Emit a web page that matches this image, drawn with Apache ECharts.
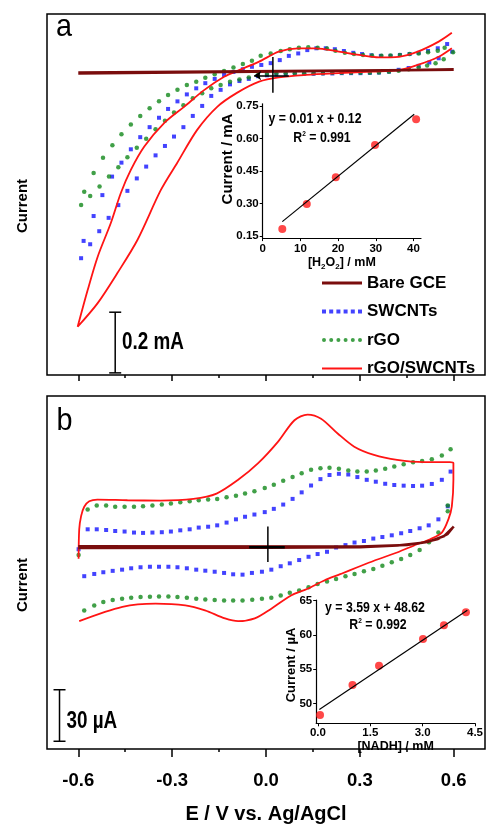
<!DOCTYPE html>
<html><head><meta charset="utf-8">
<script src="https://cdn.jsdelivr.net/npm/echarts@6/dist/echarts.min.js"></script>
<style>html,body{margin:0;padding:0;background:#fff}#c{width:486px;height:825px}</style>
</head><body><div id="c"></div>
<script>
const SANS = "'Liberation Sans',Arial,sans-serif";
const NX = 0.82; // horizontal squeeze of the reference's lettering

// ---------- Panel a : E / V vs current / mA ----------
const aBare = [[-0.6,-0.003],[0.6,0.006],[0.6,0.002],[-0.6,-0.006]];
const aRed = [[0.594,0.128],[0.552,0.099],[0.485,0.066],[0.424,0.049],[0.361,0.047],[0.297,0.055],[0.233,0.066],[0.159,0.077],[0.105,0.077],[0.041,0.066],[-0.022,0.033],[-0.086,0.005],[-0.134,-0.017],[-0.198,-0.061],[-0.262,-0.116],[-0.325,-0.169],[-0.389,-0.247],[-0.432,-0.324],[-0.464,-0.400],[-0.496,-0.499],[-0.538,-0.610],[-0.570,-0.720],[-0.602,-0.841],
  [-0.538,-0.763],[-0.475,-0.664],[-0.411,-0.555],[-0.336,-0.390],[-0.284,-0.301],[-0.220,-0.192],[-0.156,-0.116],[-0.093,-0.070],[-0.022,-0.033],[0.041,-0.019],[0.127,-0.011],[0.233,-0.005],[0.338,0.000],[0.424,0.005],[0.485,0.022],[0.552,0.049],[0.594,0.077]];
const aBlue = [[-0.591,-0.615],[-0.583,-0.558],[-0.551,-0.476],[-0.523,-0.407],[-0.492,-0.346],[-0.462,-0.300],[-0.432,-0.256],[-0.402,-0.216],[-0.372,-0.183],[-0.342,-0.152],[-0.313,-0.123],[-0.283,-0.098],[-0.253,-0.075],[-0.223,-0.055],[-0.194,-0.038],[-0.164,-0.024],[-0.134,-0.011],[-0.104,-0.001],[-0.074,0.008],[-0.045,0.016],[-0.015,0.022],[0.015,0.028],[0.044,0.038],[0.073,0.052],[0.103,0.060],[0.132,0.071],[0.161,0.077],[0.191,0.077],[0.220,0.074],[0.249,0.068],[0.279,0.062],[0.307,0.058],[0.337,0.054],[0.367,0.052],[0.398,0.052],[0.428,0.055],[0.459,0.058],[0.488,0.062],[0.518,0.068],[0.549,0.077],[0.579,0.091],
  [0.595,0.066],[0.552,0.044],[0.522,0.030],[0.488,0.019],[0.456,0.012],[0.424,0.006],[0.393,0.000],[0.361,-0.003],[0.332,-0.004],[0.302,-0.005],[0.272,-0.005],[0.242,-0.005],[0.212,-0.006],[0.182,-0.006],[0.152,-0.007],[0.122,-0.007],[0.092,-0.008],[0.063,-0.009],[0.033,-0.010],[0.003,-0.012],[-0.026,-0.015],[-0.055,-0.024],[-0.085,-0.031],[-0.115,-0.042],[-0.145,-0.060],[-0.175,-0.080],[-0.204,-0.113],[-0.234,-0.146],[-0.264,-0.183],[-0.294,-0.214],[-0.323,-0.245],[-0.353,-0.276],[-0.383,-0.313],[-0.413,-0.352],[-0.443,-0.393],[-0.472,-0.440],[-0.503,-0.482],[-0.533,-0.526],[-0.562,-0.569]];
const aGreen = [[-0.591,-0.440],[-0.581,-0.396],[-0.551,-0.334],[-0.521,-0.284],[-0.491,-0.243],[-0.462,-0.206],[-0.432,-0.174],[-0.402,-0.146],[-0.372,-0.121],[-0.342,-0.098],[-0.313,-0.077],[-0.283,-0.060],[-0.253,-0.044],[-0.223,-0.033],[-0.194,-0.020],[-0.164,-0.009],[-0.134,0.002],[-0.104,0.014],[-0.074,0.025],[-0.045,0.036],[-0.017,0.052],[0.015,0.060],[0.047,0.068],[0.076,0.074],[0.105,0.079],[0.135,0.080],[0.165,0.079],[0.195,0.076],[0.222,0.069],[0.252,0.062],[0.281,0.058],[0.310,0.055],[0.339,0.053],[0.369,0.052],[0.398,0.053],[0.428,0.055],[0.459,0.058],[0.488,0.060],[0.518,0.064],[0.549,0.069],[0.571,0.079],[0.598,0.064],
  [0.568,0.041],[0.542,0.028],[0.515,0.020],[0.488,0.014],[0.456,0.008],[0.424,0.003],[0.393,0.000],[0.361,-0.003],[0.332,-0.004],[0.302,-0.004],[0.272,-0.004],[0.242,-0.004],[0.212,-0.004],[0.182,-0.005],[0.152,-0.005],[0.122,-0.005],[0.092,-0.005],[0.063,-0.005],[0.033,-0.006],[0.003,-0.008],[-0.026,-0.012],[-0.055,-0.019],[-0.085,-0.026],[-0.115,-0.033],[-0.145,-0.044],[-0.175,-0.055],[-0.204,-0.071],[-0.234,-0.088],[-0.264,-0.111],[-0.294,-0.135],[-0.323,-0.162],[-0.353,-0.190],[-0.383,-0.221],[-0.413,-0.251],[-0.443,-0.282],[-0.472,-0.315],[-0.502,-0.346],[-0.532,-0.379],[-0.562,-0.410]];
const aScaleBar = [[-0.482,-0.793],[-0.482,-0.993]];   // 0.2 mA
const aCrossV = [[0.022,0.048],[0.022,-0.070]];
const aArrow = [[0.073,-0.013],[-0.038,-0.013]];

// ---------- Inset a : [H2O2] / mM vs current / mA ----------
const h2o2Conc = [5.2,11.7,19.4,29.8,40.7];
const h2o2Current = [0.182,0.298,0.421,0.570,0.689];
const h2o2Fit = [[5.2,0.216],[40.2,0.712]];
const insetAXTicks = [0,10,20,30,40];
const insetAYTicks = [0.15,0.30,0.45,0.60,0.75];

// ---------- Panel b : E / V vs current / µA ----------
const bBare = [[-0.6,-0.5],[0.0,-0.3],[0.3,0.0],[0.42,1.0],[0.5,2.6],[0.55,4.8],[0.58,7.6],[0.6,12.0],[0.57,6.5],[0.52,3.2],[0.45,1.2],[0.3,0.4],[-0.6,0.5]];
const bRed = [[-0.597,-43.1],[-0.459,-34.8],[-0.353,-32.9],[-0.258,-33.9],[-0.195,-36.8],[-0.131,-41.5],[-0.089,-43.1],[-0.036,-41.5],[0.017,-35.8],[0.080,-28.1],[0.133,-24.2],[0.186,-19.4],[0.239,-15.6],[0.292,-11.7],[0.345,-7.9],[0.419,-3.1],[0.483,1.7],[0.525,4.6],[0.562,8.5],[0.583,16.2],[0.594,23.8],[0.599,39.2],[0.599,48.9],[0.588,49.5],[0.504,49.5],[0.419,50.8],[0.345,53.7],[0.282,58.5],[0.229,66.2],[0.176,74.8],[0.133,77.2],[0.091,73.9],[0.038,61.3],[-0.025,48.9],[-0.089,39.2],[-0.158,31.2],[-0.232,28.1],[-0.337,27.1],[-0.443,27.3],[-0.539,27.7],[-0.565,26.7],[-0.581,23.5],[-0.591,18.1],[-0.597,10.4],[-0.599,-6.7]];
const bBlue = [[-0.599,-1.2],[-0.570,10.4],[-0.541,10.4],[-0.511,10.0],[-0.482,9.4],[-0.452,9.1],[-0.422,8.5],[-0.393,8.3],[-0.363,8.5],[-0.333,8.7],[-0.304,9.1],[-0.274,9.8],[-0.244,10.4],[-0.215,11.4],[-0.185,11.9],[-0.156,12.7],[-0.126,14.3],[-0.096,16.2],[-0.067,17.7],[-0.037,19.0],[-0.004,20.4],[0.025,22.3],[0.055,24.8],[0.085,28.1],[0.114,31.9],[0.144,35.9],[0.174,39.6],[0.203,42.0],[0.233,42.7],[0.263,42.3],[0.292,40.8],[0.322,39.2],[0.351,38.1],[0.381,36.9],[0.410,36.2],[0.440,35.8],[0.470,35.6],[0.499,35.8],[0.530,36.8],[0.562,39.2],[0.590,44.0],
  [0.581,23.8],[0.551,16.2],[0.520,12.7],[0.491,11.0],[0.461,9.4],[0.432,8.1],[0.402,6.9],[0.372,5.9],[0.343,5.0],[0.313,3.6],[0.283,2.7],[0.254,1.2],[0.224,-0.2],[0.195,-2.7],[0.165,-4.0],[0.136,-5.6],[0.106,-7.5],[0.076,-9.4],[0.047,-11.1],[0.017,-13.1],[-0.013,-14.3],[-0.045,-15.0],[-0.075,-16.0],[-0.105,-15.8],[-0.134,-15.0],[-0.164,-14.3],[-0.194,-13.7],[-0.223,-13.1],[-0.253,-12.3],[-0.283,-11.7],[-0.312,-11.4],[-0.342,-11.4],[-0.371,-11.4],[-0.401,-11.7],[-0.431,-12.3],[-0.460,-13.1],[-0.490,-13.8],[-0.520,-14.6],[-0.549,-15.6],[-0.581,-16.9]];
const bGreen = [[-0.599,-4.5],[-0.570,21.9],[-0.541,24.2],[-0.511,24.2],[-0.482,23.5],[-0.452,23.5],[-0.422,23.5],[-0.393,23.8],[-0.363,24.2],[-0.333,24.8],[-0.304,25.4],[-0.274,26.1],[-0.244,26.7],[-0.215,27.3],[-0.185,27.7],[-0.156,28.1],[-0.126,29.0],[-0.096,30.0],[-0.067,31.2],[-0.037,32.5],[-0.004,34.4],[0.025,36.4],[0.055,38.7],[0.085,40.8],[0.114,43.1],[0.144,45.0],[0.174,46.0],[0.203,46.3],[0.233,45.6],[0.263,44.6],[0.292,44.0],[0.322,44.0],[0.351,44.6],[0.381,45.6],[0.410,46.9],[0.440,48.3],[0.470,49.5],[0.499,50.2],[0.530,51.2],[0.562,53.3],[0.590,57.0],
  [0.581,24.2],[0.581,20.9],[0.551,8.5],[0.521,2.9],[0.491,-1.6],[0.461,-4.6],[0.432,-6.9],[0.402,-8.8],[0.372,-10.8],[0.343,-12.7],[0.313,-14.0],[0.283,-15.6],[0.254,-16.9],[0.224,-18.5],[0.195,-20.0],[0.165,-21.4],[0.136,-23.3],[0.106,-25.2],[0.076,-26.5],[0.047,-28.1],[0.017,-29.4],[-0.013,-30.0],[-0.044,-30.6],[-0.075,-31.0],[-0.105,-31.0],[-0.134,-31.0],[-0.164,-30.8],[-0.194,-30.4],[-0.223,-30.0],[-0.253,-29.4],[-0.283,-29.0],[-0.312,-28.7],[-0.342,-28.7],[-0.371,-28.9],[-0.401,-29.0],[-0.431,-29.4],[-0.460,-30.0],[-0.490,-30.8],[-0.520,-31.9],[-0.549,-33.9],[-0.581,-36.8]];
const bScaleBar = [[-0.660,-83],[-0.660,-113]];   // 30 µA
const bCrossV = [[0.006,12.1],[0.006,-8.7]];
const bCrossH = [[-0.054,0],[0.060,0]];

// ---------- Inset b : [NADH] / mM vs current / µA ----------
const nadhConc = [0.06,0.99,1.75,3.01,3.61,4.24];
const nadhCurrent = [48.3,52.7,55.5,59.4,61.4,63.3];
const nadhFit = [[0.04,49.1],[4.28,63.6]];
const insetBXTicks = [0,1.5,3.0,4.5];
const insetBYTicks = [50,55,60,65];

const eMajor = [-0.6,-0.3,0,0.3,0.6];
const eMinor = [-0.45,-0.15,0.15,0.45];

const C_BARE = '#7a0d0d', C_BLUE = '#1414ff', C_GREEN = '#12881a', C_RED = '#ff1414';
const zip = (a,b) => a.map((v,i)=>[v,b[i]]);

function mainX(grid, customTicks, len, showLabels, extra) {
  return Object.assign({
    type:'value', gridIndex:grid, min:-0.7, max:0.7, position:'bottom',
    axisLine:{show:false, onZero:false}, splitLine:{show:false},
    axisTick:{show:true, inside:false, length:len, customValues:customTicks, lineStyle:{color:'#000', width:1.5}},
    axisLabel: showLabels ? {show:true, customValues:customTicks, formatter:v=>v.toFixed(1), color:'#000', fontFamily:SANS, fontWeight:'bold', fontSize:18.5, margin:22} : {show:false}
  }, extra||{});
}
const insetAxisCommon = {
  axisLine:{show:true, onZero:false, lineStyle:{color:'#000', width:1.2}},
  splitLine:{show:false},
};
const lbl = {color:'#000', fontFamily:SANS, fontWeight:'bold', fontSize:11.5};

const chart = echarts.init(document.getElementById('c'), null, {renderer:'canvas'});
chart.setOption({
  animation:false,
  backgroundColor:'#fff',
  grid:[
    {left:47, top:14, width:438, height:361, show:true, borderColor:'#000', borderWidth:1.5, backgroundColor:'transparent'},
    {left:262.7, top:103.8, width:158.3, height:134.3},
    {left:47, top:396, width:438, height:356, show:true, borderColor:'#000', borderWidth:1.5, backgroundColor:'transparent'},
    {left:316.2, top:600, width:161.5, height:123.3}
  ],
  xAxis:[
    mainX(0, eMajor, 6, false),
    mainX(0, eMinor, 3, false),
    Object.assign({type:'value', gridIndex:1, min:0, max:42,
      axisTick:{show:true, length:3, customValues:insetAXTicks, lineStyle:{color:'#000'}},
      axisLabel:Object.assign({customValues:insetAXTicks, margin:5}, lbl),
      name:'[H{s|2}O{s|2}] / mM', nameLocation:'middle', nameGap:16,
      nameTextStyle:{color:'#000', fontFamily:SANS, fontWeight:'bold', fontSize:12.5, rich:{s:{fontFamily:SANS, fontWeight:'bold', fontSize:8, verticalAlign:'bottom', padding:[8,0,0,0]}}}
    }, insetAxisCommon),
    mainX(2, eMajor, 8, true, {name:'E / V vs. Ag/AgCl', nameLocation:'middle', nameGap:55,
      nameTextStyle:{color:'#000', fontFamily:SANS, fontWeight:'bold', fontSize:20}}),
    mainX(2, eMinor, 3, false),
    Object.assign({type:'value', gridIndex:3, min:-0.05, max:4.5,
      axisTick:{show:true, length:3, customValues:insetBXTicks, lineStyle:{color:'#000'}},
      axisLabel:Object.assign({customValues:insetBXTicks, formatter:v=>v.toFixed(1), margin:4}, lbl),
      name:'[NADH] / mM', nameLocation:'middle', nameGap:14,
      nameTextStyle:{color:'#000', fontFamily:SANS, fontWeight:'bold', fontSize:12.5}
    }, insetAxisCommon)
  ],
  yAxis:[
    {type:'value', gridIndex:0, min:-1.0, max:0.19, show:false},
    Object.assign({type:'value', gridIndex:1, min:0.14, max:0.76,
      axisTick:{show:true, length:3, customValues:insetAYTicks, lineStyle:{color:'#000'}},
      axisLabel:Object.assign({customValues:insetAYTicks, formatter:v=>v.toFixed(2), margin:4}, lbl)
    }, insetAxisCommon),
    {type:'value', gridIndex:2, min:-117.5, max:88, show:false},
    Object.assign({type:'value', gridIndex:3, min:47.1, max:65.1,
      axisTick:{show:true, length:3, customValues:insetBYTicks, lineStyle:{color:'#000'}},
      axisLabel:Object.assign({customValues:insetBYTicks, margin:4}, lbl)
    }, insetAxisCommon)
  ],
  legend:{
    orient:'vertical', left:322, top:273, padding:0, itemWidth:40, itemHeight:14, itemGap:8.5,
    selectedMode:false,
    textStyle:{color:'#000', fontFamily:SANS, fontWeight:'bold', fontSize:17, lineHeight:20},
    data:[
      {name:'Bare GCE', icon:'path://M0,0H40V3H0Z', itemStyle:{color:C_BARE}},
      {name:'SWCNTs', icon:'path://M0,0h4v4h-4zM7.2,0h4v4h-4zM14.4,0h4v4h-4zM21.6,0h4v4h-4zM28.8,0h4v4h-4zM36,0h4v4h-4z', itemStyle:{color:C_BLUE}},
      {name:'rGO', icon:'path://M0,2a2,2 0 1,0 4,0a2,2 0 1,0 -4,0zM7.2,2a2,2 0 1,0 4,0a2,2 0 1,0 -4,0zM14.4,2a2,2 0 1,0 4,0a2,2 0 1,0 -4,0zM21.6,2a2,2 0 1,0 4,0a2,2 0 1,0 -4,0zM28.8,2a2,2 0 1,0 4,0a2,2 0 1,0 -4,0zM36,2a2,2 0 1,0 4,0a2,2 0 1,0 -4,0z', itemStyle:{color:C_GREEN}},
      {name:'rGO/SWCNTs', icon:'path://M0,0H40V2H0Z', itemStyle:{color:C_RED}}
    ]
  },
  series:[
    // ---- panel a ----
    {name:'SWCNTs', type:'scatter', xAxisIndex:0, yAxisIndex:0, data:aBlue, symbol:'rect', symbolSize:4, itemStyle:{color:C_BLUE}, silent:true},
    {name:'rGO', type:'scatter', xAxisIndex:0, yAxisIndex:0, data:aGreen, symbol:'circle', symbolSize:4.5, itemStyle:{color:C_GREEN}, silent:true},
    {name:'rGO/SWCNTs', type:'line', xAxisIndex:0, yAxisIndex:0, data:aRed, symbol:'none', smooth:0.3, color:C_RED, lineStyle:{color:C_RED, width:1.8}, silent:true},
    {name:'Bare GCE', type:'line', xAxisIndex:0, yAxisIndex:0, data:aBare, symbol:'none', color:C_BARE, lineStyle:{color:C_BARE, width:2.5}, silent:true,
      markLine:{silent:true, symbol:['none','arrow'], symbolSize:7, label:{show:false}, lineStyle:{color:'#000', width:1.5, type:'solid'},
        data:[[{coord:aArrow[0]},{coord:aArrow[1]}]]}},
    {name:'crossA', type:'line', xAxisIndex:0, yAxisIndex:0, data:aCrossV, symbol:'none', lineStyle:{color:'#000', width:1.5}, silent:true},
    {name:'scaleA', type:'line', xAxisIndex:0, yAxisIndex:0, data:aScaleBar, symbol:'rect', symbolSize:[12,1.5], showAllSymbol:true, itemStyle:{color:'#000'}, lineStyle:{color:'#000', width:1.5}, silent:true},
    // ---- inset a ----
    {name:'fitA', type:'line', xAxisIndex:2, yAxisIndex:1, data:h2o2Fit, symbol:'none', lineStyle:{color:'#000', width:1.2}, silent:true},
    {name:'ptsA', type:'scatter', xAxisIndex:2, yAxisIndex:1, data:zip(h2o2Conc,h2o2Current), symbol:'circle', symbolSize:8, itemStyle:{color:'#ff1a1a'}, silent:true},
    // ---- panel b ----
    {name:'SWCNTs', type:'scatter', xAxisIndex:3, yAxisIndex:2, data:bBlue, symbol:'rect', symbolSize:4, itemStyle:{color:C_BLUE}, silent:true},
    {name:'rGO', type:'scatter', xAxisIndex:3, yAxisIndex:2, data:bGreen, symbol:'circle', symbolSize:4.5, itemStyle:{color:C_GREEN}, silent:true},
    {name:'rGO/SWCNTs', type:'line', xAxisIndex:3, yAxisIndex:2, data:bRed, symbol:'none', smooth:0.3, color:C_RED, lineStyle:{color:C_RED, width:1.8}, silent:true},
    {name:'Bare GCE', type:'line', xAxisIndex:3, yAxisIndex:2, data:bBare, symbol:'none', color:C_BARE, lineStyle:{color:C_BARE, width:2.5}, silent:true},
    {name:'crossBV', type:'line', xAxisIndex:3, yAxisIndex:2, data:bCrossV, symbol:'none', lineStyle:{color:'#000', width:1.5}, silent:true},
    {name:'crossBH', type:'line', xAxisIndex:3, yAxisIndex:2, data:bCrossH, symbol:'none', lineStyle:{color:'#000', width:2.5}, silent:true},
    {name:'scaleB', type:'line', xAxisIndex:3, yAxisIndex:2, data:bScaleBar, symbol:'rect', symbolSize:[12,1.5], showAllSymbol:true, itemStyle:{color:'#000'}, lineStyle:{color:'#000', width:1.5}, silent:true},
    // ---- inset b ----
    {name:'fitB', type:'line', xAxisIndex:5, yAxisIndex:3, data:nadhFit, symbol:'none', lineStyle:{color:'#000', width:1.2}, silent:true},
    {name:'ptsB', type:'scatter', xAxisIndex:5, yAxisIndex:3, data:zip(nadhConc,nadhCurrent), symbol:'circle', symbolSize:8, itemStyle:{color:'#ff1a1a'}, silent:true}
  ],
  graphic:[
    {type:'text', x:64, y:27, scaleX:0.9, style:{text:'a', font:"32px "+SANS, fill:'#000', textAlign:'center', textVerticalAlign:'middle'}},
    {type:'text', x:64.5, y:421.5, scaleX:0.9, style:{text:'b', font:"32px "+SANS, fill:'#000', textAlign:'center', textVerticalAlign:'middle'}},
    {type:'text', x:23, y:206, rotation:Math.PI/2, style:{text:'Current', font:"bold 15px "+SANS, fill:'#000', textAlign:'center', textVerticalAlign:'middle'}},
    {type:'text', x:23, y:585, rotation:Math.PI/2, style:{text:'Current', font:"bold 15px "+SANS, fill:'#000', textAlign:'center', textVerticalAlign:'middle'}},
    {type:'text', x:228.3, y:159, rotation:Math.PI/2, style:{text:'Current / mA', font:"bold 15px "+SANS, fill:'#000', textAlign:'center', textVerticalAlign:'middle'}},
    {type:'text', x:291.7, y:665, rotation:Math.PI/2, style:{text:'Current / \u00b5A', font:"bold 13px "+SANS, fill:'#000', textAlign:'center', textVerticalAlign:'middle'}},
    {type:'text', x:122, y:343, scaleX:NX, style:{text:'0.2 mA', font:"bold 23px "+SANS, fill:'#000', textAlign:'left', textVerticalAlign:'middle'}},
    {type:'text', x:66.5, y:722, scaleX:NX, style:{text:'30 \u00b5A', font:"bold 23px "+SANS, fill:'#000', textAlign:'left', textVerticalAlign:'middle'}},
    {type:'text', x:315, y:119, scaleX:NX, style:{text:'y = 0.01 x + 0.12', font:"bold 15px "+SANS, fill:'#000', textAlign:'center', textVerticalAlign:'middle'}},
    {type:'text', x:322, y:138, scaleX:NX, style:{text:'R{s|2} = 0.991', rich:{s:{font:"bold 8px "+SANS, verticalAlign:'top', padding:[0,0,8,0]}}, font:"bold 15px "+SANS, fill:'#000', textAlign:'center', textVerticalAlign:'middle'}},
    {type:'text', x:375, y:607.5, scaleX:NX, style:{text:'y = 3.59 x + 48.62', font:"bold 15px "+SANS, fill:'#000', textAlign:'center', textVerticalAlign:'middle'}},
    {type:'text', x:378, y:625, scaleX:NX, style:{text:'R{s|2} = 0.992', rich:{s:{font:"bold 8px "+SANS, verticalAlign:'top', padding:[0,0,8,0]}}, font:"bold 15px "+SANS, fill:'#000', textAlign:'center', textVerticalAlign:'middle'}}
  ]
});
</script></body></html>
